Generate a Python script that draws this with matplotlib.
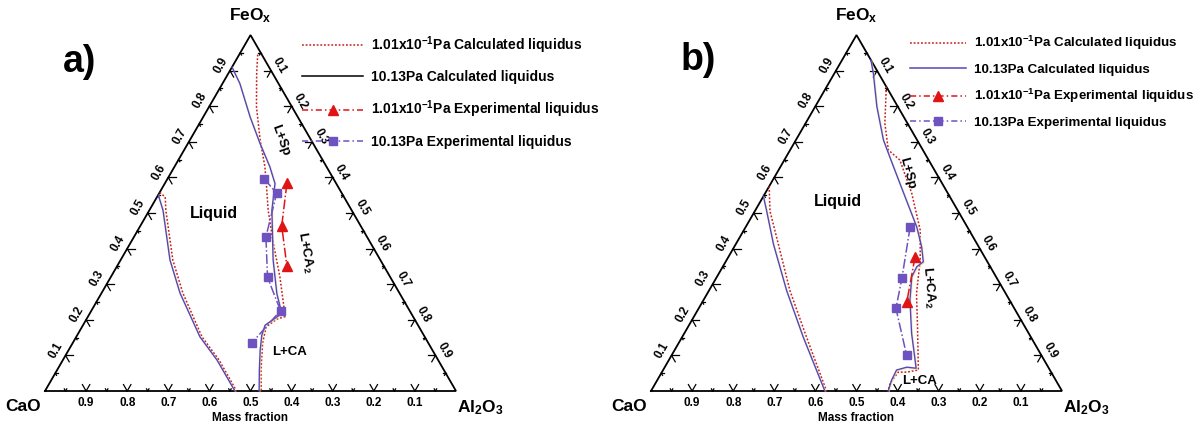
import numpy as np
import matplotlib
matplotlib.use('Agg')
import matplotlib.pyplot as plt
from matplotlib.lines import Line2D
import matplotlib.patheffects as pe

plt.rcParams['font.family'] = ['Liberation Sans', 'DejaVu Sans']
plt.rcParams['font.weight'] = 'bold'
plt.rcParams['mathtext.fontset'] = 'custom'
plt.rcParams['mathtext.rm'] = 'Liberation Sans:bold'
plt.rcParams['mathtext.it'] = 'Liberation Sans:bold'
plt.rcParams['mathtext.bf'] = 'Liberation Sans:bold'
plt.rcParams['mathtext.default'] = 'rm'

# ---------------- data (mass fractions: FeOx, Al2O3; CaO = rest) ----------------
# panel a
a_left_103_feo = [0.551, 0.508, 0.368, 0.275, 0.152, 0.087, 0.0]
a_left_103_al = [0.0, 0.033, 0.120, 0.191, 0.301, 0.375, 0.462]
a_left_01_feo = [0.558, 0.545, 0.508, 0.368, 0.275, 0.152, 0.087, 0.0]
a_left_01_al = [0.0, 0.020, 0.040, 0.127, 0.198, 0.306, 0.380, 0.466]
a_mid_103_feo = [0.910, 0.864, 0.770, 0.696, 0.630, 0.583, 0.508, 0.368, 0.274, 0.218,
                 0.201, 0.185, 0.157, 0.115, 0.059, 0.0]
a_mid_103_al = [0.0, 0.042, 0.114, 0.175, 0.232, 0.268, 0.298, 0.371, 0.427, 0.467,
                0.455, 0.443, 0.449, 0.466, 0.492, 0.521]
a_mid_01_feo = [0.945, 0.892, 0.799, 0.705, 0.630, 0.574, 0.508, 0.415, 0.321, 0.209,
                0.202, 0.180, 0.135, 0.059, 0.0]
a_mid_01_al = [0.045, 0.069, 0.115, 0.171, 0.220, 0.252, 0.289, 0.348, 0.411, 0.480,
               0.463, 0.448, 0.462, 0.496, 0.526]
a_exp_103_feo = [0.596, 0.555, 0.433, 0.319, 0.226, 0.136]
a_exp_103_al = [0.236, 0.286, 0.321, 0.382, 0.460, 0.436]
a_exp_01_feo = [0.583, 0.464, 0.351]
a_exp_01_al = [0.297, 0.344, 0.413]

# panel b
b_left_103_feo = [0.547, 0.505, 0.412, 0.282, 0.151, 0.0]
b_left_103_al = [0.0, 0.029, 0.092, 0.189, 0.295, 0.423]
b_left_01_feo = [0.575, 0.505, 0.412, 0.282, 0.151, 0.0]
b_left_01_al = [0.0, 0.037, 0.104, 0.197, 0.303, 0.427]
b_mid_103_feo = [0.930, 0.892, 0.799, 0.705, 0.630, 0.546, 0.461, 0.405, 0.363, 0.349,
                 0.321, 0.256, 0.162, 0.087, 0.064, 0.067, 0.059, 0.031, 0.0]
b_mid_103_al = [0.070, 0.095, 0.150, 0.213, 0.275, 0.345, 0.416, 0.456, 0.481, 0.472,
                0.474, 0.502, 0.553, 0.599, 0.613, 0.589, 0.568, 0.570, 0.577]
b_mid_01_feo = [0.855, 0.752, 0.677, 0.649, 0.555, 0.452, 0.368, 0.274, 0.181, 0.059,
                0.053, 0.053, 0.022, 0.0]
b_mid_01_al = [0.145, 0.193, 0.239, 0.281, 0.357, 0.429, 0.471, 0.509, 0.558, 0.621,
               0.596, 0.575, 0.571, 0.577]
b_exp_103_feo = [0.461, 0.317, 0.232, 0.100]
b_exp_103_al = [0.400, 0.452, 0.480, 0.572]
b_exp_01_feo = [0.377, 0.251]
b_exp_01_al = [0.454, 0.497]

tick_values = [0.1, 0.2, 0.3, 0.4, 0.5, 0.6, 0.7, 0.8, 0.9]
legend_labels = [r'1.01x10$^{-1}$Pa Calculated liquidus',
                 '10.13Pa Calculated liquidus',
                 r'1.01x10$^{-1}$Pa Experimental liquidus',
                 '10.13Pa Experimental liquidus']

# ---------------- styling ----------------
RED = '#c81e1e'
TRI = '#e01414'
BLUE = '#5546b8'
SQ = '#6e52bf'
S3 = np.sqrt(3) / 2

def tern(feo, al):
    feo = np.asarray(feo, float)
    al = np.asarray(al, float)
    return al + feo / 2, feo * S3

W, H = 1198, 425
SIDE = 411
BASE_Y = 391
fig = plt.figure(figsize=(W / 100, H / 100), dpi=100)

def make_ax(left_px, vertex_px):
    ax = fig.add_axes([left_px / W, 0, 599 / W, 1])
    ax.set_xlim(-(vertex_px - left_px) / SIDE, (left_px + 599 - vertex_px) / SIDE)
    ax.set_ylim(-(H - BASE_Y) / SIDE, BASE_Y / SIDE)
    ax.axis('off')
    return ax

shadow = [pe.SimpleLineShadow(offset=(0.6, -0.6), shadow_color='#eadf8a', alpha=0.6),
          pe.Normal()]

def draw_frame(ax):
    ax.plot([0, 1, 0.5, 0], [0, 0, S3, 0], color='k', lw=1.3, clip_on=False,
            solid_joinstyle='miter')
    for i in range(1, 20):
        v = i * 0.05
        major = i % 2 == 0
        L = 0.018 if major else 0.006
        lw = 0.9
        p = np.array([1 - v, 0.0])
        for d in [(0.5, S3), (-0.5, S3)]:
            ax.plot([p[0], p[0] + L * d[0]], [p[1], p[1] + L * d[1]], color='k', lw=lw)
        p = np.array([v / 2, v * S3])
        for d in [(1, 0), (0.5, -S3)]:
            ax.plot([p[0], p[0] + L * d[0]], [p[1], p[1] + L * d[1]], color='k', lw=lw)
        p = np.array([v + (1 - v) / 2, (1 - v) * S3])
        for d in [(-1, 0), (-0.5, -S3)]:
            ax.plot([p[0], p[0] + L * d[0]], [p[1], p[1] + L * d[1]], color='k', lw=lw)
    for v in tick_values:
        lab = f'{v:.1f}'
        ax.text(1 - v, -0.030, lab, ha='center', va='center', fontsize=8.5)
        p = np.array([v / 2, v * S3]) + 0.026 * np.array([-S3, 0.5])
        ax.text(p[0], p[1], lab, ha='center', va='center', rotation=60, fontsize=8.5)
        p = np.array([v + (1 - v) / 2, (1 - v) * S3]) + 0.024 * np.array([S3, 0.5])
        ax.text(p[0], p[1], lab, ha='center', va='center', rotation=-60, fontsize=8.5)
    ax.text(0.5, S3 + 0.047, r'FeO$_{x}$', ha='center', va='center', fontsize=12.5)
    ax.text(-0.054, -0.038, 'CaO', ha='center', va='center', fontsize=12.5)
    ax.text(1.058, -0.040, r'Al$_2$O$_3$', ha='center', va='center', fontsize=12.5)
    ax.text(0.5, -0.066, 'Mass fraction', ha='center', va='center', fontsize=8.5)

def draw_data(ax, l103, l01, m103, m01, e103, e01):
    for feo, al in (l01, m01):
        x, y = tern(feo, al)
        ax.plot(x, y, color=RED, lw=1.1, ls=(0, (1.2, 1.2)), zorder=3)
    for feo, al in (l103, m103):
        x, y = tern(feo, al)
        ax.plot(x, y, color=BLUE, lw=1.0, zorder=4, path_effects=shadow)
    x, y = tern(*e01)
    ax.plot(x, y, color=TRI, lw=1.1, ls='-.', marker='^', ms=7, mfc=TRI, mec=TRI, zorder=5)
    x, y = tern(*e103)
    ax.plot(x, y, color=SQ, lw=1.1, ls='-.', marker='s', ms=6, mfc=SQ, mec=SQ, zorder=5)

def draw_legend(ax, calc_color, anchor, hl, spacing, size):
    handles = [
        Line2D([], [], color=RED, lw=1.1, ls=(0, (1.2, 1.2))),
        Line2D([], [], color=calc_color, lw=1.1),
        Line2D([], [], color=TRI, lw=1.1, ls=(0, (4, 2, 1, 2)), marker='^', ms=7, mfc=TRI, mec=TRI),
        Line2D([], [], color=SQ, lw=1.1, ls=(0, (4, 2, 1, 2)), marker='s', ms=6, mfc=SQ, mec=SQ),
    ]
    ax.legend(handles, legend_labels, loc='upper left', bbox_to_anchor=anchor,
              bbox_transform=fig.transFigure, frameon=False, handlelength=hl,
              handletextpad=0.6, labelspacing=spacing, borderpad=0, borderaxespad=0,
              numpoints=1, prop={'size': size, 'weight': 'bold'})

# panel a
axa = make_ax(0, 45)
draw_frame(axa)
draw_data(axa, (a_left_103_feo, a_left_103_al), (a_left_01_feo, a_left_01_al),
          (a_mid_103_feo, a_mid_103_al), (a_mid_01_feo, a_mid_01_al),
          (a_exp_103_feo, a_exp_103_al), (a_exp_01_feo, a_exp_01_al))
axa.text(0.085, 0.80, 'a)', ha='center', va='center', fontsize=27)
axa.text(0.41, 0.433, 'Liquid', ha='center', va='center', fontsize=11.5)
axa.text(0.572, 0.611, 'L+Sp', ha='center', va='center', rotation=-70, fontsize=9.5)
axa.text(0.633, 0.338, r'L+CA$_2$', ha='center', va='center', rotation=-80, fontsize=9.5)
axa.text(0.594, 0.095, 'L+CA', ha='center', va='center', fontsize=9.5)
draw_legend(axa, 'k', (302 / W, 1 - 34 / H), 4.4, 1.05, 10)

# panel b
axb = make_ax(599, 651)
draw_frame(axb)
draw_data(axb, (b_left_103_feo, b_left_103_al), (b_left_01_feo, b_left_01_al),
          (b_mid_103_feo, b_mid_103_al), (b_mid_01_feo, b_mid_01_al),
          (b_exp_103_feo, b_exp_103_al), (b_exp_01_feo, b_exp_01_al))
axb.text(0.114, 0.805, 'b)', ha='center', va='center', fontsize=27)
axb.text(0.455, 0.46, 'Liquid', ha='center', va='center', fontsize=11.5)
axb.text(0.623, 0.530, 'L+Sp', ha='center', va='center', rotation=-75, fontsize=9.5)
axb.text(0.674, 0.253, r'L+CA$_2$', ha='center', va='center', rotation=-85, fontsize=9.5)
axb.text(0.654, 0.024, 'L+CA', ha='center', va='center', fontsize=9.5)
draw_legend(axb, BLUE, (910 / W, 1 - 34 / H), 4.2, 0.85, 9.6)

fig.savefig('out.png', dpi=100)
